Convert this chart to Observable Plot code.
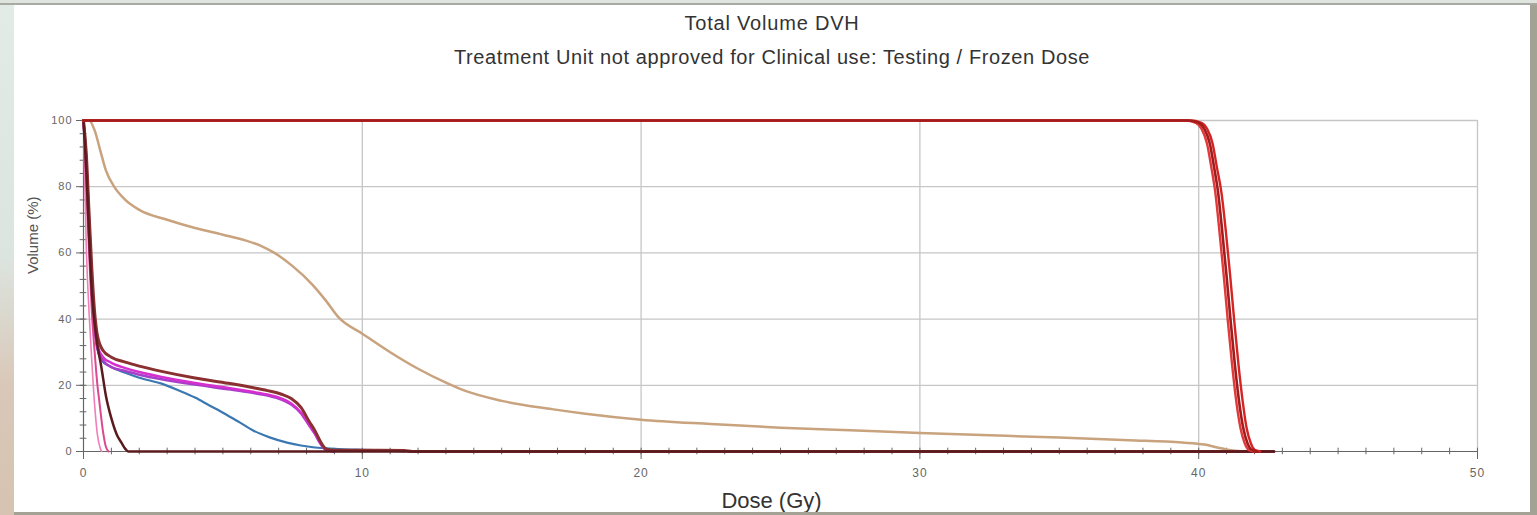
<!DOCTYPE html>
<html>
<head>
<meta charset="utf-8">
<script src="https://cdn.jsdelivr.net/npm/d3@7"></script>
<script src="https://cdn.jsdelivr.net/npm/@observablehq/plot@0.6"></script>
<style>
  html, body { margin: 0; padding: 0; }
  body { width: 1537px; height: 515px; position: relative; overflow: hidden; background: #a4a294; font-family: "Liberation Sans", Arial, sans-serif; }
  #leftStrip { position: absolute; left: 0; top: 0; width: 14px; height: 515px; background: linear-gradient(to bottom, #e3ebe6 0%, #dce4df 50%, #d9c8b8 75%, #d6c3b1 100%); }
  #topStrip { position: absolute; left: 0; top: 0; width: 1537px; height: 5px; background: #dfe5de; border-bottom: 2px solid #a8aaa4; box-sizing: border-box; }
  #panel { position: absolute; left: 14px; top: 5px; width: 1516px; height: 507px; background: #fff; overflow: hidden; }
  #title { position: absolute; left: 0; width: 100%; top: 7px; text-align: center; font-size: 20px; letter-spacing: 0.8px; color: #333; }
  #subtitle { position: absolute; left: 0; width: 100%; top: 41px; text-align: center; font-size: 20px; letter-spacing: 0.6px; color: #333; }
  #chart { position: absolute; left: -14px; top: 70px; width: 1537px; }
  #chart svg { max-width: none !important; }
  #chart svg g[aria-label="y-axis tick label"] text, #chart svg g[aria-label="x-axis tick label"] text { letter-spacing: 1px; }
</style>
</head>
<body>
<div id="leftStrip"></div>
<div id="topStrip"></div>
<div id="panel">
  <div id="title">Total Volume DVH</div>
  <div id="subtitle">Treatment Unit not approved for Clinical use: Testing / Frozen Dose</div>
  <div id="chart"></div>
</div>
<script>
// Axis ticks
const xMajor = [0, 10, 20, 30, 40, 50];
const yMajor = [0, 20, 40, 60, 80, 100];
const xMinor = d3.range(0, 51, 1);
const yMinor = d3.range(0, 101, 4);

// Series: [dose (Gy), volume (%)]
const ptvA = [[0,100],[39.5,100],[39.9,99.3],[40.1,97.5],[40.3,93],[40.45,86],[40.6,78],[40.75,66],[40.9,53],[41.05,39],[41.2,26],[41.35,15],[41.5,7],[41.65,2.5],[41.8,0.5],[42.0,0]];
const ptvB = [[0,100],[39.6,100],[40.0,99.3],[40.2,97.5],[40.4,93],[40.55,86],[40.7,78],[40.85,66],[41.0,53],[41.15,39],[41.3,26],[41.45,15],[41.6,7],[41.75,2.5],[41.9,0.5],[42.1,0]];
const ptvC = [[0,100],[39.7,100],[40.1,99.3],[40.3,97.5],[40.5,93],[40.65,86],[40.82,78],[40.98,66],[41.13,53],[41.28,39],[41.43,26],[41.58,15],[41.72,7],[41.87,2.5],[42.0,0.5],[42.2,0]];
const body = [[0,100],[0.2,100],[0.4,97],[0.6,91],[0.8,85],[1.1,80],[1.5,76],[2.0,73],[3.0,70],[4.0,67.5],[5.0,65.5],[5.8,63.8],[6.4,62],[6.85,60],[7.5,56],[8.2,50.5],[8.7,45.5],[9.15,40.5],[10,35.6],[11,30],[12,25],[13,20.8],[13.6,18.6],[15,15.3],[16.8,12.8],[18,11.4],[20,9.6],[22.5,8.3],[25,7.2],[27.5,6.4],[30,5.6],[32.5,4.9],[35,4.2],[37.5,3.4],[39.4,2.7],[40.2,2.1],[40.8,1],[41.3,0.2],[41.6,0]];
const oarMaroon = [[0,100],[0.1,90],[0.2,72],[0.3,55],[0.4,42],[0.5,35],[0.7,30.5],[1,28.5],[1.5,27],[2.0,25.8],[2.8,24.2],[4,22.2],[5.2,20.6],[6.0,19.4],[6.6,18.4],[7.1,17.3],[7.45,16],[7.8,13.3],[8.1,9],[8.3,6.3],[8.5,3],[8.7,0.8],[9,0.4],[11.5,0.3],[11.8,0],[42.7,0]];
const oarMagenta = [[0,100],[0.1,88],[0.2,70],[0.3,52],[0.4,38],[0.5,32],[0.7,28.5],[1,26.8],[1.5,25.2],[2.0,24],[2.8,22.5],[4,20.7],[5.2,19.2],[6,18.1],[6.6,17.2],[7.1,16],[7.45,14.5],[7.8,11.8],[8.1,8],[8.3,5.5],[8.5,2.5],[8.7,0.5],[9,0]];
const oarPurple = [[0,100],[0.1,87],[0.2,68],[0.3,50],[0.4,37],[0.5,31],[0.7,27.5],[1,25.5],[1.5,24.3],[2,23.2],[2.8,21.8],[4,20.2],[5.2,18.8],[6,17.8],[6.6,16.9],[7.1,15.7],[7.45,14.2],[7.8,11.5],[8.1,7.8],[8.3,5.3],[8.5,2.3],[8.7,0.4],[9,0]];
const oarBlue = [[0,100],[0.1,88],[0.2,70],[0.3,52],[0.4,38],[0.5,31],[0.65,27.5],[1,25.5],[1.5,23.8],[2,22.3],[2.8,20.5],[3.4,18.5],[4,16.3],[4.5,14],[5.05,11.5],[5.6,8.8],[6.1,6.3],[6.7,4.2],[7.3,2.7],[7.8,1.8],[8.3,1.2],[9,0.8],[10,0.5],[11,0.3],[11.5,0]];
const oarDark = [[0,100],[0.1,85],[0.2,65],[0.3,48],[0.45,35],[0.65,25],[0.8,17],[1.0,10],[1.2,5],[1.36,2.7],[1.5,0.8],[1.6,0],[42.7,0]];
const oarPink = [[0,100],[0.1,80],[0.2,60],[0.3,42],[0.4,30],[0.5,20],[0.57,15],[0.7,6],[0.8,1.5],[0.9,0]];
const oarLightPink = [[0,100],[0.05,80],[0.1,62],[0.2,42],[0.3,27],[0.4,14],[0.5,5],[0.6,1],[0.65,0]];

const series = [
  {data: body, color: "#c9a27e", width: 2.5},
  {data: oarBlue, color: "#3b78b2", width: 2.2},
  {data: oarPurple, color: "#a63fc8", width: 2.5},
  {data: oarMagenta, color: "#d62fd0", width: 2.5},
  {data: oarMaroon, color: "#8a3030", width: 3},
  {data: oarLightPink, color: "#ef7fb8", width: 1.6},
  {data: oarPink, color: "#d94a8f", width: 2},
  {data: oarDark, color: "#5a1a1e", width: 2.5},
  {data: ptvA, color: "#e03a3a", width: 2.4},
  {data: ptvC, color: "#d42424", width: 2.4},
  {data: ptvB, color: "#a31c1c", width: 2.6}
];

const lineMarks = series.map(s => Plot.line(s.data, {x: d => d[0], y: d => d[1], stroke: s.color, strokeWidth: s.width, curve: "monotone-x"}));

const chart = Plot.plot({
  width: 1537,
  height: 440,
  marginLeft: 83,
  marginRight: 60,
  marginTop: 45,
  marginBottom: 64,
  x: {domain: [0, 50]},
  y: {domain: [0, 100]},
  style: {background: "transparent", fontFamily: "'Liberation Sans', Arial, sans-serif", overflow: "visible", maxWidth: "none"},
  marks: [
    Plot.gridX(xMajor.filter(d => d > 0), {stroke: "#c6c6c6", strokeOpacity: 1, strokeWidth: 1.3}),
    Plot.gridY(yMajor.filter(d => d > 0), {stroke: "#c6c6c6", strokeOpacity: 1, strokeWidth: 1.3}),
    Plot.ruleX(xMinor, {y1: -1, y2: 1, stroke: "#666", strokeWidth: 1}),
    Plot.ruleY(yMinor, {x1: -0.12, x2: 0.12, stroke: "#666", strokeWidth: 1}),
    Plot.axisX({ticks: xMajor, tickSize: 8, tickPadding: 9, fontSize: 12, color: "#666", label: null}),
    Plot.axisY({ticks: yMajor, tickSize: 7, tickPadding: 4, fontSize: 11, color: "#666", label: null}),
    Plot.ruleY([0], {stroke: "#666", strokeWidth: 1.2}),
    Plot.ruleX([0], {stroke: "#666", strokeWidth: 1.2}),
    ...lineMarks,
    Plot.text(["Volume (%)"], {frameAnchor: "left", rotate: -90, dx: -50, dy: -12, fontSize: 15, fill: "#555"}),
    Plot.text(["Dose (Gy)"], {frameAnchor: "bottom", dy: 49, dx: -9, fontSize: 22, fill: "#333", lineAnchor: "middle"})
  ]
});
document.getElementById("chart").appendChild(chart);
</script>
</body>
</html>
